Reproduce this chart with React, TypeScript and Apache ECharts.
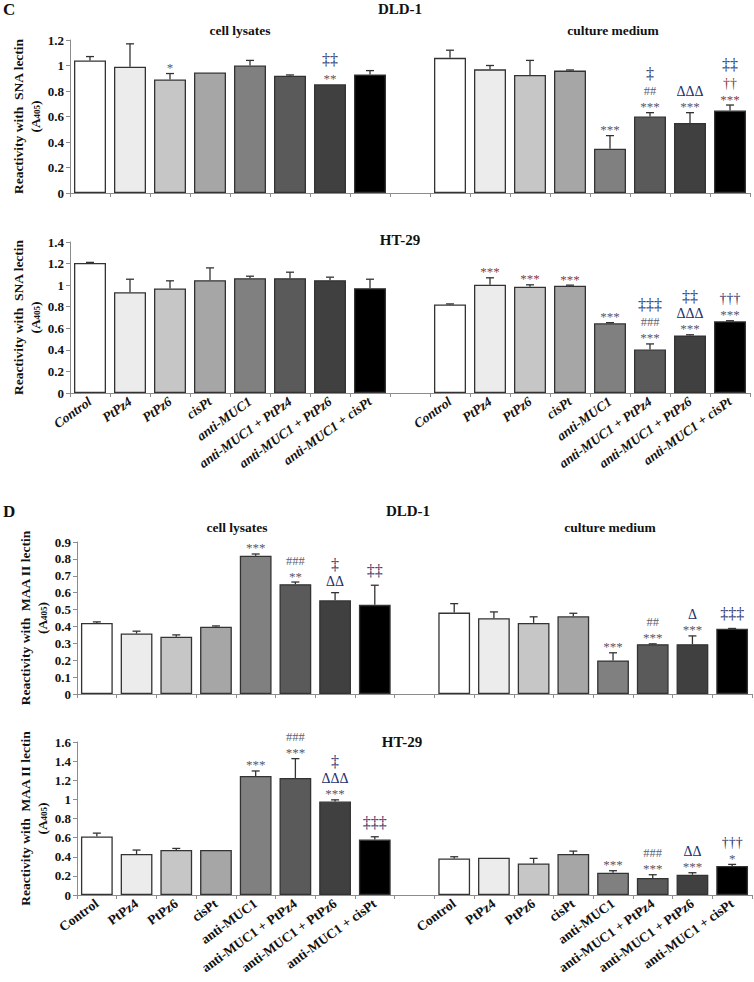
import React, { useEffect, useRef } from "react";
import * as echarts from "echarts";

const groups = [
  "Control",
  "PtPz4",
  "PtPz6",
  "cisPt",
  "anti-MUC1",
  "anti-MUC1 + PtPz4",
  "anti-MUC1 + PtPz6",
  "anti-MUC1 + cisPt",
];
const categories = [...groups, "", ...groups];
const barColors = ["#ffffff", "#ececec", "#c6c6c6", "#a6a6a6", "#808080", "#5a5a5a", "#404040", "#000000"];

// Panel C – SNA lectin, DLD-1 (cell lysates | gap | culture medium)
const snaDLD1 = [1.04, 0.99, 0.89, 0.945, 1.0, 0.92, 0.853, 0.93, null, 1.06, 0.97, 0.926, 0.96, 0.347, 0.6, 0.55, 0.647];
const snaDLD1Err = [0.03, 0.18, 0.047, 0, 0.04, 0.006, 0, 0.03, null, 0.06, 0.03, 0.114, 0.005, 0.103, 0.03, 0.08, 0.043];
const snaDLD1Notes: string[][] = [[], [], ["*"], [], [], [], ["**", "‡‡"], [], [], [], [], [], [], ["***"], ["***", "##", "‡"], ["***", "ΔΔΔ"], ["!***", "!††", "‡‡"]];

// Panel C – SNA lectin, HT-29
const snaHT29 = [1.206, 0.935, 0.97, 1.046, 1.065, 1.065, 1.046, 0.972, null, 0.82, 1.003, 0.985, 0.994, 0.646, 0.403, 0.532, 0.665];
const snaHT29Err = [0.005, 0.12, 0.07, 0.114, 0.018, 0.055, 0.028, 0.083, null, 0.006, 0.065, 0.018, 0.006, 0.006, 0.052, 0.008, 0.005];
const snaHT29Notes: string[][] = [[], [], [], [], [], [], [], [], [], [], ["!***"], ["!***"], ["!***"], ["***"], ["***", "###", "‡‡‡"], ["***", "ΔΔΔ", "‡‡"], ["***", "†††"]];

// Panel D – MAA II lectin, DLD-1
const maaDLD1 = [0.421, 0.358, 0.339, 0.398, 0.819, 0.65, 0.555, 0.528, null, 0.482, 0.449, 0.421, 0.46, 0.199, 0.295, 0.295, 0.386];
const maaDLD1Err = [0.006, 0.014, 0.011, 0.005, 0.01, 0.013, 0.045, 0.116, null, 0.053, 0.037, 0.036, 0.018, 0.045, 0.002, 0.049, 0.002];
const maaDLD1Notes: string[][] = [[], [], [], [], ["***"], ["**", "###"], ["ΔΔ", "‡"], ["‡‡"], [], [], [], [], [], ["***"], ["***", "##"], ["***", "Δ"], ["‡‡‡"]];

// Panel D – MAA II lectin, HT-29
const maaHT29 = [0.612, 0.428, 0.47, 0.47, 1.245, 1.224, 0.977, 0.58, null, 0.383, 0.39, 0.33, 0.428, 0.233, 0.177, 0.212, 0.303];
const maaHT29Err = [0.035, 0.042, 0.017, 0, 0.052, 0.202, 0.018, 0.029, null, 0.017, 0, 0.053, 0.031, 0.021, 0.035, 0.021, 0.017];
const maaHT29Notes: string[][] = [[], [], [], [], ["***"], ["***", "###"], ["***", "ΔΔΔ", "‡"], ["‡‡‡"], [], [], [], [], [], ["***"], ["***", "###"], ["***", "ΔΔ"], ["*", "†††"]];

const FONT = "'Liberation Serif', 'Times New Roman', serif";

const panels = [
  { values: snaDLD1, errors: snaDLD1Err, notes: snaDLD1Notes, max: 1.2, interval: 0.2, grid: { left: 70, top: 40, width: 680, height: 153 }, showX: false, italic: true, lectin: "SNA" },
  { values: snaHT29, errors: snaHT29Err, notes: snaHT29Notes, max: 1.4, interval: 0.2, grid: { left: 70, top: 242, width: 680, height: 151 }, showX: true, italic: true, lectin: "SNA" },
  { values: maaDLD1, errors: maaDLD1Err, notes: maaDLD1Notes, max: 0.9, interval: 0.1, grid: { left: 77, top: 542, width: 675, height: 152 }, showX: false, italic: false, lectin: "MAA II" },
  { values: maaHT29, errors: maaHT29Err, notes: maaHT29Notes, max: 1.6, interval: 0.2, grid: { left: 77, top: 742, width: 675, height: 153 }, showX: true, italic: false, lectin: "MAA II" },
];

function noteStyle(s: string) {
  if (s.includes("‡")) return { h: 21, size: 16, color: "#27306c", dy: 0 };
  if (s.includes("†")) return { h: 16, size: 14, color: "#2a2f66", dy: 0 };
  if (s.includes("#")) return { h: 15, size: 12.5, color: "#5d6272", dy: 0 };
  if (s.includes("Δ")) return { h: 14, size: 14, color: "#22306a", dy: 0 };
  return { h: 10, size: 13, color: "#5a5668", dy: 3 };
}

export default function App() {
  const ref = useRef<HTMLDivElement>(null);
  useEffect(() => {
    if (!ref.current) return;
    const chart = echarts.init(ref.current, null, { renderer: "svg" });

    const grids: any[] = [];
    const xAxes: any[] = [];
    const yAxes: any[] = [];
    const series: any[] = [];
    const graphics: any[] = [];

    panels.forEach((p, gi) => {
      grids.push({ ...p.grid, containLabel: false });
      xAxes.push({
        type: "category",
        gridIndex: gi,
        data: categories,
        axisLine: { lineStyle: { color: "#8c8c8c", width: 1 } },
        axisTick: { show: true, length: 4, lineStyle: { color: "#8c8c8c" } },
        axisLabel: {
          show: p.showX,
          interval: 0,
          rotate: 36,
          margin: 7,
          fontFamily: FONT,
          fontWeight: "bold",
          fontStyle: p.italic ? "italic" : "normal",
          fontSize: 13.5,
          color: "#111",
        },
      });
      yAxes.push({
        type: "value",
        gridIndex: gi,
        min: 0,
        max: p.max,
        interval: p.interval,
        splitLine: { show: false },
        axisLine: { show: true, lineStyle: { color: "#8c8c8c" } },
        axisTick: { show: true, length: 4, lineStyle: { color: "#8c8c8c" } },
        axisLabel: { fontFamily: FONT, fontWeight: "bold", fontSize: 13, color: "#111", margin: 6 },
      });
      series.push({
        type: "bar",
        xAxisIndex: gi,
        yAxisIndex: gi,
        barWidth: "80%",
        data: p.values.map((v, k) =>
          v == null ? "-" : { value: v, itemStyle: { color: barColors[k < 8 ? k : k - 9] } }
        ),
        itemStyle: { borderColor: "#333333", borderWidth: 1.3 },
        z: 2,
      });
      const notes = p.notes;
      series.push({
        type: "custom",
        xAxisIndex: gi,
        yAxisIndex: gi,
        encode: { x: 0, y: 1 },
        z: 5,
        clip: false,
        data: p.values
          .map((v, k) => (v == null ? null : [k, v, p.errors[k] as number]))
          .filter((d) => d != null),
        renderItem: (params: any, api: any) => {
          const i = api.value(0);
          const v = api.value(1);
          const e = api.value(2);
          const base = api.coord([i, v]);
          const top = api.coord([i, v + e]);
          const children: any[] = [];
          if (e > 0) {
            children.push({
              type: "line",
              shape: { x1: base[0], y1: base[1], x2: top[0], y2: top[1] },
              style: { stroke: "#333", lineWidth: 1.3 },
            });
            children.push({
              type: "line",
              shape: { x1: top[0] - 4, y1: top[1], x2: top[0] + 4, y2: top[1] },
              style: { stroke: "#333", lineWidth: 1.3 },
            });
          }
          let y = top[1] - 4;
          (notes[i] || []).forEach((raw) => {
            const red = raw.startsWith("!");
            const s = red ? raw.slice(1) : raw;
            const st = noteStyle(s);
            const cy = y - st.h / 2;
            children.push({
              type: "text",
              x: top[0],
              y: cy + st.dy,
              style: {
                text: s,
                align: "center",
                verticalAlign: "middle",
                fill: red ? "#8c3b35" : st.color,
                fontSize: st.size,
                fontFamily: FONT,
                fontWeight: "normal",
              },
            });
            y -= st.h;
          });
          return { type: "group", children };
        },
      });

      const cy = p.grid.top + p.grid.height / 2;
      graphics.push({
        type: "text",
        x: p.grid.left - 52,
        y: cy,
        rotation: Math.PI / 2,
        style: {
          text: `Reactivity with  ${p.lectin} lectin`,
          align: "center",
          verticalAlign: "middle",
          fontFamily: FONT,
          fontWeight: "bold",
          fontSize: 13.5,
          fill: "#111",
        },
      });
      graphics.push({
        type: "text",
        x: p.grid.left - 35,
        y: cy,
        rotation: Math.PI / 2,
        style: {
          text: "(A{s|405})",
          rich: { s: { fontSize: 9, fontFamily: FONT, fontWeight: "bold", fill: "#111", padding: [4, 0, 0, 0] } },
          align: "center",
          verticalAlign: "middle",
          fontFamily: FONT,
          fontWeight: "bold",
          fontSize: 13.5,
          fill: "#111",
        },
      });
    });

    const title = (text: string, x: number, y: number, size: number, align = "center") => ({
      type: "text",
      x,
      y,
      style: { text, align, verticalAlign: "middle", fontFamily: FONT, fontWeight: "bold", fontSize: size, fill: "#111" },
    });
    graphics.push(title("C", 3, 9, 17, "left"));
    graphics.push(title("DLD-1", 400, 9, 15));
    graphics.push(title("cell lysates", 240, 30, 13.5));
    graphics.push(title("culture medium", 613, 30, 13.5));
    graphics.push(title("HT-29", 400, 240, 15));
    graphics.push(title("D", 3, 511, 17, "left"));
    graphics.push(title("DLD-1", 408, 511, 15));
    graphics.push(title("cell lysates", 237, 527, 13.5));
    graphics.push(title("culture medium", 610, 527, 13.5));
    graphics.push(title("HT-29", 402, 742, 15));

    chart.setOption({
      animation: false,
      backgroundColor: "#ffffff",
      grid: grids,
      xAxis: xAxes,
      yAxis: yAxes,
      series,
      graphic: graphics,
    });
    return () => chart.dispose();
  }, []);
  return <div ref={ref} style={{ position: "absolute", left: 0, top: 0, width: 754, height: 982 }} />;
}
